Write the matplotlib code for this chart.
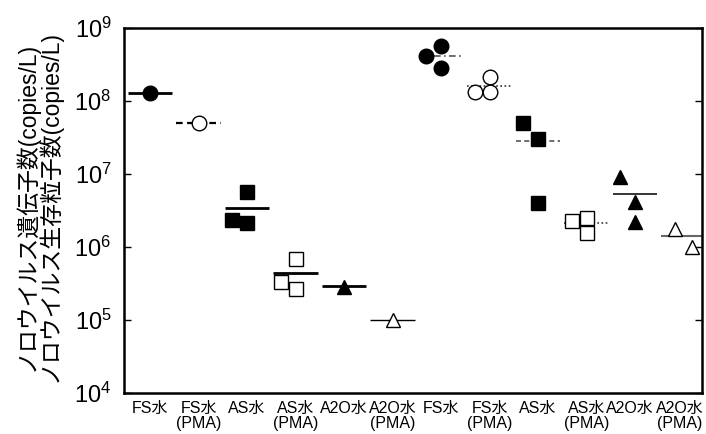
import matplotlib.pyplot as plt
import matplotlib.transforms as mtransforms
from matplotlib.ticker import LogLocator, NullLocator

plt.rcParams['font.family'] = ['Liberation Sans', 'Noto Sans CJK JP', 'DejaVu Sans']
plt.rcParams['mathtext.fontset'] = 'custom'
plt.rcParams['mathtext.rm'] = 'Liberation Sans'

# categories (x tick labels)
categories = ['FS水', 'FS水\n(PMA)', 'AS水', 'AS水\n(PMA)', 'A2O水', 'A2O水\n(PMA)',
              'FS水', 'FS水\n(PMA)', 'AS水', 'AS水\n(PMA)', 'A2O水', 'A2O水\n(PMA)']

# measured values per category (copies/L)
values = [
    [1.3e8],
    [5.0e7],
    [2.35e6, 5.7e6, 2.13e6],
    [3.3e5, 6.85e5, 2.66e5],
    [2.83e5],
    [1.0e5],
    [4.1e8, 5.7e8, 2.85e8],
    [1.33e8, 2.13e8, 1.33e8],
    [5.0e7, 3.0e7, 4.0e6],
    [2.27e6, 2.5e6, 1.56e6],
    [9.1e6, 4.1e6, 2.2e6],
    [1.77e6, 1.0e6],
]

# mean lines
means = [1.3e8, 5.0e7, 3.4e6, 4.4e5, 2.9e5, 1.0e5,
         4.1e8, 1.6e8, 2.85e7, 2.13e6, 5.3e6, 1.4e6]

# styles
markers = ['o', 'o', 's', 's', '^', '^', 'o', 'o', 's', 's', '^', '^']
filled = [True, False, True, False, True, False, True, False, True, False, True, False]
line_styles = ['-', (0, (3, 2)), '-', '-', '-', '-',
               (0, (4, 2, 1, 2)), (0, (1, 1.5)), (0, (3, 2)), (0, (1, 1.5)), '-', '-']
line_widths = [2.0, 1.6, 2.0, 2.0, 2.0, 1.0, 1.2, 1.2, 1.2, 1.2, 1.1, 1.5]
line_colors = ['black'] * 6 + ['#555555', '#333333', '#555555', '#333333', 'black', '#666666']
marker_sizes = {'o': 10.5, 's': 10, '^': 10}


def jitter(n):
    if n == 3:
        return [-0.31, 0.0, 0.0]
    if n == 2:
        return [-0.17, 0.17]
    return [0.0]


fig = plt.figure(figsize=(7.06, 4.34), dpi=100)
ax = fig.add_axes([0.1756, 0.0945, 0.9943 - 0.1756, 0.9355 - 0.0945])

for i, vals in enumerate(values):
    ax.hlines(means[i], i - 0.46, i + 0.46, colors=line_colors[i],
              linestyles=line_styles[i], lw=line_widths[i], zorder=2)
    xs = [i + d for d in jitter(len(vals))]
    ax.plot(xs, vals, linestyle='none', marker=markers[i],
            markersize=marker_sizes[markers[i]],
            markerfacecolor='black' if filled[i] else 'white',
            markeredgecolor='black', markeredgewidth=1.0, zorder=3)

ax.set_yscale('log')
ax.set_ylim(1e4, 1e9)
ax.set_xlim(-0.54, 11.38)
ax.yaxis.set_major_locator(LogLocator(base=10, numticks=10))
ax.yaxis.set_minor_locator(NullLocator())
ax.set_xticks(range(len(categories)))
ax.set_xticklabels(categories, fontsize=11.5, linespacing=1.0)
ax.tick_params(axis='x', length=0, pad=6)
ax.tick_params(axis='y', direction='in', length=5, width=1, labelsize=17,
               right=True, pad=9)
for s in ax.spines.values():
    s.set_linewidth(1.8)

# nudge the last two labels so they fit inside the figure without touching
labels = ax.get_xticklabels()
for lbl, shift in ((labels[-2], -4), (labels[-1], -2.5)):
    lbl.set_transform(lbl.get_transform() +
                      mtransforms.ScaledTranslation(shift / 72, 0, fig.dpi_scale_trans))

fig.text(0.054, 0.525, 'ノロウイルス遺伝子数(copies/L)\nノロウイルス生存粒子数(copies/L)',
         rotation=90, ha='center', va='center', fontsize=16.5, linespacing=0.95)

fig.savefig('out.png', dpi=100)
